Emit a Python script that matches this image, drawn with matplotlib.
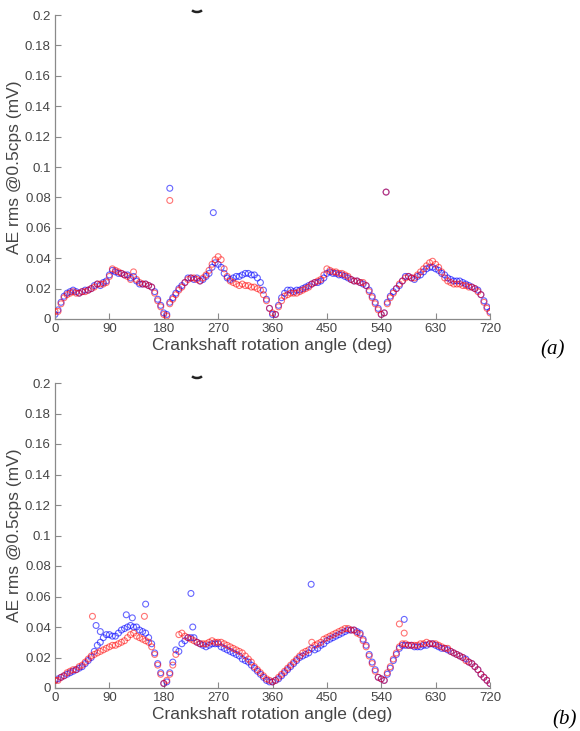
import numpy as np
import matplotlib
matplotlib.use("Agg")
import matplotlib.pyplot as plt
from matplotlib.patches import Arc

# ---------------- data ----------------
angles = list(range(0, 721, 5))  # crank angle (deg)

a_blue = [
    0.003,0.006,0.011,0.015,0.017,0.018,0.019,0.018,0.017,0.018,0.019,0.019,0.020,0.022,0.023,0.022,0.024,0.025,
    0.029,0.032,0.031,0.030,0.030,0.029,0.029,0.027,0.028,0.025,0.023,0.023,0.023,0.022,0.021,0.018,0.013,0.009,
    0.004,0.003,0.011,0.014,0.017,0.020,0.022,0.024,0.027,0.027,0.026,0.027,0.025,0.026,0.028,0.030,0.034,0.037,
    0.036,0.034,0.030,0.027,0.026,0.027,0.028,0.028,0.029,0.030,0.030,0.029,0.029,0.027,0.024,0.019,0.013,0.007,
    0.003,0.003,0.009,0.014,0.017,0.019,0.019,0.018,0.019,0.019,0.020,0.021,0.022,0.023,0.024,0.024,0.025,0.027,
    0.030,0.031,0.030,0.030,0.029,0.029,0.028,0.027,0.026,0.025,0.025,0.024,0.023,0.022,0.019,0.015,0.011,0.007,
    0.003,0.004,0.011,0.015,0.018,0.020,0.022,0.025,0.028,0.028,0.027,0.026,0.028,0.029,0.031,0.033,0.034,0.034,
    0.033,0.032,0.030,0.029,0.027,0.026,0.025,0.025,0.025,0.024,0.023,0.022,0.021,0.020,0.019,0.016,0.012,0.008,
    0.005]

a_red = [
    0.005,0.005,0.010,0.014,0.016,0.017,0.018,0.017,0.017,0.018,0.018,0.019,0.020,0.021,0.023,0.023,0.023,0.024,
    0.028,0.033,0.032,0.031,0.030,0.029,0.028,0.026,0.031,0.026,0.024,0.023,0.023,0.022,0.021,0.017,0.012,0.008,
    0.003,0.002,0.010,0.013,0.016,0.019,0.021,0.024,0.026,0.027,0.027,0.026,0.025,0.027,0.029,0.032,0.036,0.039,
    0.041,0.039,0.033,0.028,0.025,0.024,0.023,0.022,0.023,0.022,0.022,0.021,0.021,0.020,0.019,0.016,0.012,0.007,
    0.004,0.003,0.008,0.012,0.015,0.016,0.017,0.017,0.017,0.018,0.019,0.020,0.021,0.023,0.024,0.025,0.026,0.029,
    0.033,0.032,0.031,0.031,0.030,0.030,0.029,0.028,0.026,0.025,0.025,0.024,0.024,0.022,0.018,0.014,0.010,0.006,
    0.003,0.004,0.010,0.014,0.017,0.020,0.023,0.025,0.027,0.028,0.027,0.027,0.029,0.031,0.033,0.035,0.037,0.038,
    0.036,0.034,0.031,0.027,0.025,0.024,0.023,0.023,0.023,0.022,0.022,0.021,0.021,0.020,0.018,0.016,0.011,0.007,
    0.004]

b_blue = [
    0.005,0.006,0.007,0.008,0.009,0.010,0.011,0.012,0.013,0.014,0.016,0.018,0.020,0.024,0.028,0.030,0.033,0.035,
    0.035,0.034,0.034,0.036,0.038,0.039,0.040,0.041,0.040,0.040,0.038,0.037,0.036,0.033,0.029,0.023,0.016,0.010,
    0.003,0.004,0.010,0.017,0.025,0.024,0.029,0.031,0.033,0.033,0.033,0.030,0.029,0.028,0.027,0.028,0.029,0.029,
    0.029,0.027,0.026,0.025,0.024,0.023,0.022,0.021,0.019,0.018,0.017,0.015,0.013,0.011,0.009,0.007,0.005,0.004,
    0.004,0.005,0.006,0.008,0.010,0.012,0.014,0.016,0.018,0.020,0.021,0.022,0.023,0.026,0.025,0.026,0.028,0.029,
    0.031,0.032,0.033,0.034,0.035,0.036,0.037,0.038,0.038,0.038,0.037,0.036,0.032,0.028,0.022,0.017,0.012,0.007,
    0.006,0.005,0.009,0.013,0.018,0.022,0.026,0.028,0.028,0.028,0.028,0.027,0.027,0.027,0.028,0.028,0.029,0.029,
    0.028,0.027,0.026,0.026,0.025,0.024,0.023,0.022,0.021,0.020,0.019,0.017,0.016,0.014,0.012,0.009,0.007,0.005,
    0.003]

b_red = [
    0.005,0.005,0.007,0.008,0.010,0.011,0.012,0.012,0.014,0.015,0.017,0.019,0.021,0.022,0.023,0.024,0.025,0.026,
    0.027,0.028,0.028,0.029,0.030,0.031,0.033,0.035,0.036,0.034,0.033,0.032,0.031,0.030,0.027,0.022,0.015,0.009,
    0.003,0.005,0.009,0.015,0.022,0.035,0.036,0.034,0.033,0.032,0.031,0.030,0.029,0.029,0.029,0.030,0.031,0.030,
    0.030,0.030,0.029,0.028,0.027,0.026,0.025,0.024,0.023,0.021,0.019,0.017,0.014,0.012,0.010,0.008,0.006,0.005,
    0.004,0.005,0.007,0.009,0.011,0.013,0.015,0.017,0.019,0.021,0.023,0.024,0.025,0.030,0.028,0.029,0.030,0.032,
    0.033,0.034,0.035,0.036,0.037,0.038,0.039,0.039,0.038,0.038,0.036,0.035,0.031,0.027,0.021,0.016,0.011,0.007,
    0.006,0.005,0.010,0.014,0.019,0.023,0.027,0.029,0.029,0.028,0.028,0.028,0.028,0.029,0.029,0.030,0.029,0.029,
    0.029,0.028,0.027,0.026,0.026,0.024,0.023,0.022,0.021,0.020,0.018,0.017,0.016,0.014,0.012,0.009,0.007,0.005,
    0.003]

# isolated points (outliers)
a_blue_out_x = [190, 262, 548]
a_blue_out_y = [0.086, 0.070, 0.0835]
a_red_out_x = [190, 548]
a_red_out_y = [0.078, 0.0835]

b_blue_out_x = [68, 75, 118, 128, 150, 225, 228, 424, 578]
b_blue_out_y = [0.041, 0.037, 0.048, 0.046, 0.055, 0.062, 0.040, 0.068, 0.045]
b_red_out_x = [62, 148, 570, 578]
b_red_out_y = [0.047, 0.047, 0.042, 0.036]

xticks = [0, 90, 180, 270, 360, 450, 540, 630, 720]
yticks = [0, 0.02, 0.04, 0.06, 0.08, 0.1, 0.12, 0.14, 0.16, 0.18, 0.2]
ytick_labels = ["0", "0.02", "0.04", "0.06", "0.08", "0.1", "0.12", "0.14", "0.16", "0.18", "0.2"]
xlabel = "Crankshaft rotation angle (deg)"
ylabel = "AE rms @0.5cps (mV)"

# ---------------- plot ----------------
plt.rcParams['font.family'] = ['Liberation Sans', 'DejaVu Sans']
W, H = 580, 731
fig = plt.figure(figsize=(W / 100, H / 100), dpi=100)

def px_axes(left, top, right, bottom):
    return fig.add_axes([left / W, 1 - bottom / H, (right - left) / W, (bottom - top) / H])

axA = px_axes(55, 15, 490, 319)
axB = px_axes(55, 383, 490, 688)

axis_col = "#8a8a8a"
text_col = "#454545"
ms = 18
lw = 0.8

def draw(ax, blue, red, bx, by, rx, ry):
    ax.scatter(angles, blue, s=ms, facecolors='none', edgecolors=(0, 0, 1, 0.6), linewidths=lw, zorder=2)
    ax.scatter(bx, by, s=ms, facecolors='none', edgecolors=(0, 0, 1, 0.6), linewidths=lw, zorder=2)
    ax.scatter(angles, red, s=ms, facecolors='none', edgecolors=(1, 0, 0, 0.55), linewidths=lw, zorder=3)
    ax.scatter(rx, ry, s=ms, facecolors='none', edgecolors=(1, 0, 0, 0.55), linewidths=lw, zorder=3)
    ax.set_xlim(0, 720)
    ax.set_ylim(0, 0.2)
    ax.set_xticks(xticks)
    ax.set_xticklabels([str(t) for t in xticks])
    ax.set_yticks(yticks)
    ax.set_yticklabels(ytick_labels)
    for s in ['top', 'right']:
        ax.spines[s].set_visible(False)
    for s in ['left', 'bottom']:
        ax.spines[s].set_color(axis_col)
        ax.spines[s].set_linewidth(0.9)
    ax.tick_params(direction='in', length=4, width=0.8, color=axis_col,
                   labelcolor=text_col, labelsize=9.5, pad=3)
    ax.set_xlabel(xlabel, fontsize=12.5, color=text_col, labelpad=2)
    ax.set_ylabel(ylabel, fontsize=12.5, color=text_col, labelpad=2)

draw(axA, a_blue, a_red, a_blue_out_x, a_blue_out_y, a_red_out_x, a_red_out_y)
draw(axB, b_blue, b_red, b_blue_out_x, b_blue_out_y, b_red_out_x, b_red_out_y)

# panel labels
fig.text(540 / W, 1 - 350 / H, "(a)", fontsize=15, fontstyle='italic',
         family=['Liberation Serif', 'DejaVu Serif'], color='black', va='center', ha='left')
fig.text(552 / W, 1 - 720 / H, "(b)", fontsize=15, fontstyle='italic',
         family=['Liberation Serif', 'DejaVu Serif'], color='black', va='center', ha='left')

# small cut-off glyph fragments at top of each panel
for yc in [8, 374]:
    arc = Arc((197 / W, 1 - yc / H), 12 / W, 8 / H, theta1=200, theta2=340,
              transform=fig.transFigure, color='#222222', lw=1.8)
    fig.add_artist(arc)

fig.savefig("out.png", dpi=100)
